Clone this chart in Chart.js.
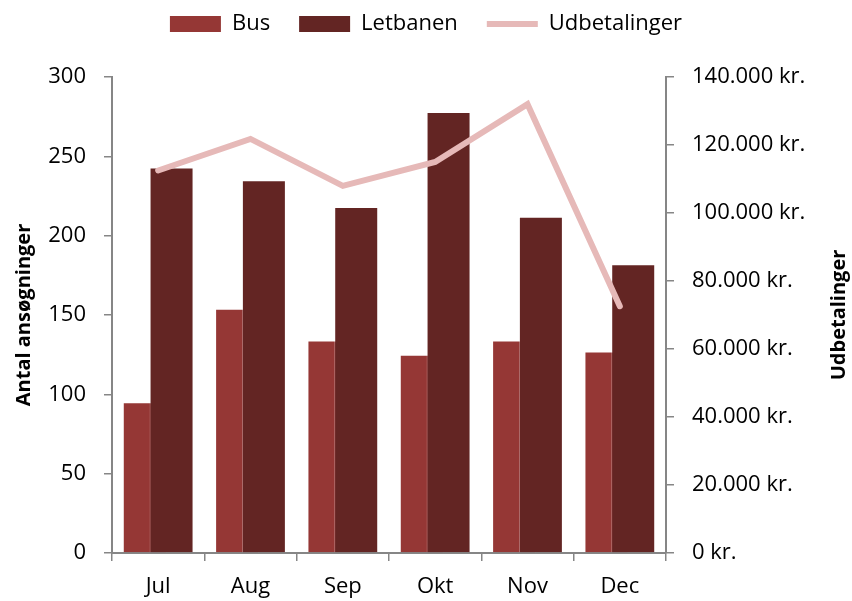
<!DOCTYPE html>
<html>
<head>
<meta charset="utf-8">
<script src="https://cdn.jsdelivr.net/npm/chart.js@4"></script>
<style>
  html, body { margin: 0; padding: 0; background: #fff; }
  canvas { display: block; }
</style>
</head>
<body>
<canvas id="myChart" width="852" height="601"></canvas>
<script>
const months = ["Jul", "Aug", "Sep", "Okt", "Nov", "Dec"];
const busValues = [95, 154, 134, 125, 134, 127];
const letbaneValues = [243, 235, 218, 278, 212, 182];
const payouts = [112500, 121800, 108000, 115000, 132000, 72600];

// bars sit a bit left/right of the category centre and overlap (like the Excel chart)
const pairShift = 0.145;

Chart.defaults.font.family = "'Open Sans'";
Chart.defaults.font.size = 22;
Chart.defaults.color = "#000";

const axisGrey = "#868686";

function kr(v) {
    return String(v).replace(/\B(?=(\d{3})+(?!\d))/g, ".") + " kr.";
}

// legend needs more room below it than Chart.js gives by default
const legendSpace = {
    id: "legendSpace",
    afterInit(chart) {
        const fit = chart.legend.fit;
        chart.legend.fit = function () {
            fit.call(this);
            this.height = 93;
        };
    }
};

// right axis title reads bottom-to-top in the original
const rightTitle = {
    id: "rightTitle",
    afterDraw(chart) {
        const { ctx, chartArea } = chart;
        const s = chart.scales.y1;
        ctx.save();
        ctx.translate(s.right - 13, (chartArea.top + chartArea.bottom) / 2);
        ctx.rotate(-Math.PI / 2);
        ctx.font = "bold 20px 'Open Sans'";
        ctx.textAlign = "center";
        ctx.textBaseline = "middle";
        ctx.fillStyle = "#000";
        ctx.fillText("Udbetalinger", 0, 0);
        ctx.restore();
    }
};

const barEdge = "rgba(255,255,255,0.35)";

new Chart(document.getElementById("myChart"), {
    type: "bar",
    data: {
        labels: months,
        datasets: [
            {
                label: "Bus",
                data: busValues.map((v, i) => ({ x: i - pairShift, y: v })),
                backgroundColor: "#953735",
                borderColor: barEdge,
                borderWidth: 1,
                borderSkipped: "start",
                inflateAmount: 0,
                xAxisID: "xb",
                yAxisID: "y",
                grouped: false,
                barThickness: 44,
                order: 2
            },
            {
                label: "Letbanen",
                data: letbaneValues.map((v, i) => ({ x: i + pairShift, y: v })),
                backgroundColor: "#632523",
                borderColor: barEdge,
                borderWidth: 1,
                borderSkipped: "start",
                inflateAmount: 0,
                xAxisID: "xb",
                yAxisID: "y",
                grouped: false,
                barThickness: 44,
                order: 1
            },
            {
                type: "line",
                label: "Udbetalinger",
                data: payouts,
                borderColor: "#E6B9B8",
                backgroundColor: "#E6B9B8",
                borderWidth: 6,
                borderCapStyle: "round",
                pointRadius: 0,
                tension: 0,
                xAxisID: "x",
                yAxisID: "y1",
                order: 0
            }
        ]
    },
    options: {
        responsive: false,
        animation: false,
        layout: { padding: { top: -16, left: 0, right: 0, bottom: 0 } },
        plugins: {
            tooltip: { enabled: false },
            legend: {
                position: "top",
                labels: {
                    usePointStyle: true,
                    pointStyleWidth: 51,
                    boxWidth: 51,
                    boxHeight: 16,
                    padding: 29,
                    font: { size: 22 },
                    generateLabels(chart) {
                        const items = Chart.defaults.plugins.legend.labels.generateLabels(chart);
                        items.forEach(it => {
                            it.pointStyle = chart.data.datasets[it.datasetIndex].type === "line" ? "line" : "rect";
                            it.lineWidth = it.pointStyle === "line" ? it.lineWidth : 0;
                        });
                        return items.sort((a, b) => a.datasetIndex - b.datasetIndex);
                    }
                }
            }
        },
        scales: {
            x: {
                type: "category",
                offset: true,
                afterFit(s) { s.height = 48; },
                grid: { offset: true, drawOnChartArea: false, tickLength: 8, color: axisGrey, lineWidth: 1.5 },
                border: { color: axisGrey, width: 2 },
                ticks: { padding: 13, font: { size: 22 } }
            },
            xb: {
                type: "linear",
                display: false,
                offset: false,
                grid: { offset: false },
                min: -0.5,
                max: 5.5
            },
            y: {
                position: "left",
                min: 0,
                max: 300,
                afterFit(s) { s.width = 112; },
                grid: { drawOnChartArea: false, tickLength: 8, color: axisGrey, lineWidth: 1.5 },
                border: { color: axisGrey, width: 2 },
                ticks: { stepSize: 50, padding: 18, font: { size: 22 } },
                title: {
                    display: true,
                    text: "Antal ansøgninger",
                    font: { size: 20, weight: "bold" },
                    padding: { top: 12, bottom: 0 }
                }
            },
            y1: {
                position: "right",
                min: 0,
                max: 140000,
                afterFit(s) { s.width = 186; },
                grid: { drawOnChartArea: false, tickLength: 8, color: axisGrey, lineWidth: 1.5 },
                border: { color: axisGrey, width: 2 },
                ticks: { stepSize: 20000, padding: 18, font: { size: 22 }, callback: v => kr(v) }
            }
        }
    },
    plugins: [legendSpace, rightTitle]
});
</script>
</body>
</html>
